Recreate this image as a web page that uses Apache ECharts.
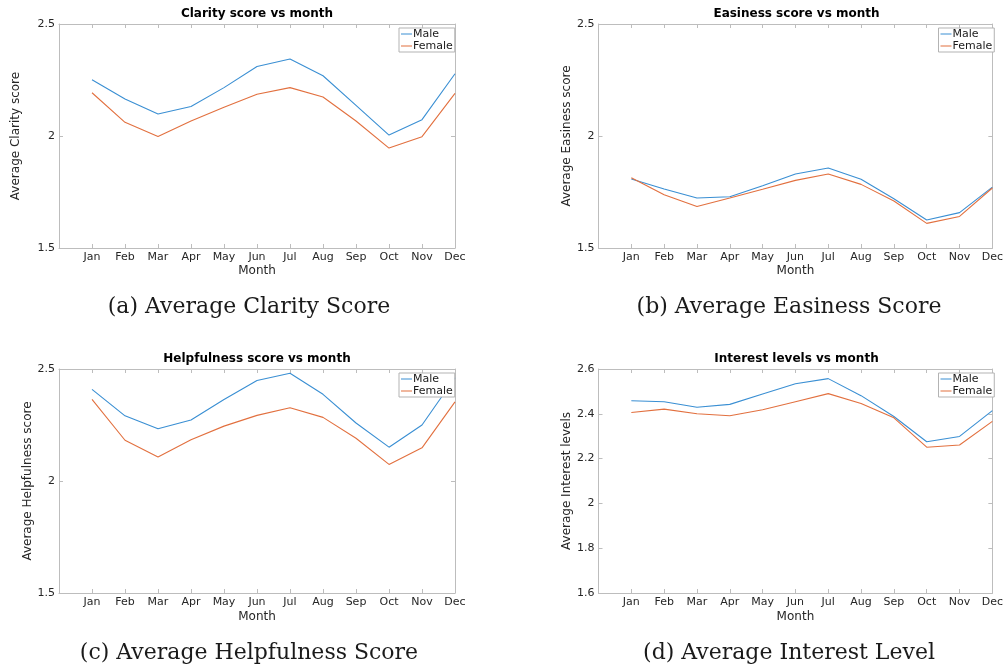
<!DOCTYPE html>
<html>
<head>
<meta charset="utf-8">
<title>Average scores by month and gender</title>
<script src="https://cdn.jsdelivr.net/npm/echarts@6/dist/echarts.min.js"></script>
<style>
  html, body { margin: 0; padding: 0; background: #fff; }
  #chart { width: 1006px; height: 669px; }
</style>
</head>
<body>
<div id="chart"></div>
<script>
// Month names shown on every x axis
const months = ['Jan', 'Feb', 'Mar', 'Apr', 'May', 'Jun', 'Jul', 'Aug', 'Sep', 'Oct', 'Nov', 'Dec'];

// Average clarity score
const clarityMale   = [2.251, 2.165, 2.098, 2.132, 2.216, 2.310, 2.344, 2.269, 2.137, 2.004, 2.073, 2.278];
const clarityFemale = [2.193, 2.061, 1.998, 2.067, 2.128, 2.186, 2.216, 2.174, 2.067, 1.946, 1.997, 2.190];

// Average easiness score
const easinessMale   = [1.808, 1.763, 1.723, 1.729, 1.778, 1.830, 1.857, 1.807, 1.720, 1.625, 1.658, 1.772];
const easinessFemale = [1.814, 1.738, 1.685, 1.723, 1.762, 1.802, 1.830, 1.784, 1.710, 1.610, 1.641, 1.768];

// Average helpfulness score
const helpfulMale   = [2.409, 2.291, 2.233, 2.272, 2.364, 2.449, 2.481, 2.387, 2.259, 2.151, 2.250, 2.461];
const helpfulFemale = [2.364, 2.182, 2.107, 2.184, 2.245, 2.293, 2.327, 2.284, 2.191, 2.074, 2.148, 2.353];

// Average interest level
const interestMale   = [2.458, 2.454, 2.429, 2.442, 2.488, 2.534, 2.557, 2.481, 2.388, 2.275, 2.299, 2.414];
const interestFemale = [2.406, 2.421, 2.400, 2.391, 2.418, 2.454, 2.490, 2.446, 2.382, 2.251, 2.261, 2.366];

// Texts
const panelTitles = ['Clarity score vs month', 'Easiness score vs month', 'Helpfulness score vs month', 'Interest levels vs month'];
const yAxisNames  = ['Average Clarity score', 'Average Easiness score', 'Average Helpfulness score', 'Average Interest levels'];
const captions    = ['(a) Average Clarity Score', '(b) Average Easiness Score', '(c) Average Helpfulness Score', '(d) Average Interest Level'];
const seriesNames = ['Male', 'Female'];

// Y tick ranges per panel
const yMin  = [1.5, 1.5, 1.5, 1.6];
const yMax  = [2.5, 2.5, 2.5, 2.6];
const yStep = [0.5, 0.5, 0.5, 0.2];

const panelData = [
  [clarityMale, clarityFemale],
  [easinessMale, easinessFemale],
  [helpfulMale, helpfulFemale],
  [interestMale, interestFemale]
];

// Layout of the four panels
const plotW = 396, plotH = 224;
const panelLeft = [59, 598.5, 59, 598.5];
const panelTop  = [24, 24, 369, 369];
const yNameGap  = [37, 22, 21, 22];
const xNameGap  = [17, 17, 18, 18];
const captionX  = [249, 789, 249, 789];
const captionY  = [307, 307, 653, 653];

const FONT = 'DejaVu Sans';
const AXIS_GRAY = '#bdbdbd';
const TEXT_DARK = '#262626';
const lineColors = ['#3a8fd3', '#e2703f'];

// Thin horizontal stroke used as legend key (outer dots only stretch the box)
const LEGEND_LINE = 'path://M0,0h0.01v0.01h-0.01z M0,4.45h12v1.1h-12z M0,9.99h0.01v0.01h-0.01z';

const grids = [], xAxes = [], yAxes = [], series = [], legends = [], graphics = [];

function fmtY(v) {
  return String(Math.round(v * 10) / 10);
}

for (let p = 0; p < 4; p++) {
  grids.push({ left: panelLeft[p], top: panelTop[p], width: plotW, height: plotH, containLabel: false });

  const baseX = {
    type: 'value', gridIndex: p, min: 0, max: 12, interval: 1,
    axisLine: { show: true, onZero: false, lineStyle: { color: AXIS_GRAY, width: 1 } },
    axisTick: { show: true, inside: true, length: 4, lineStyle: { color: AXIS_GRAY } },
    splitLine: { show: false }
  };
  // bottom axis with month labels
  xAxes.push(Object.assign({}, baseX, {
    position: 'bottom',
    name: 'Month', nameLocation: 'middle', nameGap: xNameGap[p],
    nameTextStyle: { fontFamily: FONT, fontSize: 12, color: TEXT_DARK },
    axisLabel: {
      show: true, margin: 4, fontFamily: FONT, fontSize: 11, color: TEXT_DARK,
      formatter: v => (v >= 1 && v <= 12 ? months[v - 1] : '')
    }
  }));
  // top axis: box edge with mirrored ticks
  xAxes.push(Object.assign({}, baseX, { position: 'top', axisLabel: { show: false } }));

  const baseY = {
    type: 'value', gridIndex: p, min: yMin[p], max: yMax[p], interval: yStep[p],
    axisLine: { show: true, onZero: false, lineStyle: { color: AXIS_GRAY, width: 1 } },
    axisTick: { show: true, inside: true, length: 4, lineStyle: { color: AXIS_GRAY } },
    splitLine: { show: false }
  };
  yAxes.push(Object.assign({}, baseY, {
    position: 'left',
    name: yAxisNames[p], nameLocation: 'middle', nameGap: yNameGap[p], nameRotate: 90,
    nameTextStyle: { fontFamily: FONT, fontSize: 12, color: TEXT_DARK },
    axisLabel: { show: true, margin: 4, fontFamily: FONT, fontSize: 11, color: TEXT_DARK, formatter: fmtY }
  }));
  yAxes.push(Object.assign({}, baseY, { position: 'right', axisLabel: { show: false } }));

  for (let s = 0; s < 2; s++) {
    series.push({
      name: seriesNames[s],
      type: 'line',
      xAxisIndex: p * 2,
      yAxisIndex: p * 2,
      data: panelData[p][s].map((v, i) => [i + 1, v]),
      symbol: 'none',
      showSymbol: false,
      lineStyle: { color: lineColors[s], width: 1.1 },
      itemStyle: { color: lineColors[s] },
      animation: false,
      z: 2
    });
  }

  legends.push({
    orient: 'vertical',
    left: panelLeft[p] + 340,
    top: panelTop[p] + 4,
    padding: [0, 2, 0, 2],
    itemWidth: 11,
    itemHeight: 10,
    itemGap: 0,
    icon: LEGEND_LINE,
    backgroundColor: '#fff',
    borderColor: '#b3b3b3',
    borderWidth: 1,
    selectedMode: false,
    data: seriesNames,
    textStyle: { fontFamily: FONT, fontSize: 11, color: '#1a1a1a', lineHeight: 12, padding: [0, 0, 0, -4] },
    z: 10
  });

  // panel heading
  graphics.push({
    type: 'text',
    x: panelLeft[p] + plotW / 2,
    y: panelTop[p] - 10,
    style: {
      text: panelTitles[p], align: 'center', verticalAlign: 'middle',
      font: 'bold 12px "' + FONT + '"', fill: '#000'
    }
  });
  // sub-figure caption
  graphics.push({
    type: 'text',
    x: captionX[p],
    y: captionY[p],
    style: {
      text: captions[p], align: 'center', verticalAlign: 'middle',
      font: '22px "DejaVu Serif"', fill: '#1a1a1a'
    }
  });
}

const chart = echarts.init(document.getElementById('chart'), null, { renderer: 'canvas' });
chart.setOption({
  backgroundColor: '#fff',
  animation: false,
  grid: grids,
  xAxis: xAxes,
  yAxis: yAxes,
  legend: legends,
  series: series,
  graphic: graphics
});
</script>
</body>
</html>
